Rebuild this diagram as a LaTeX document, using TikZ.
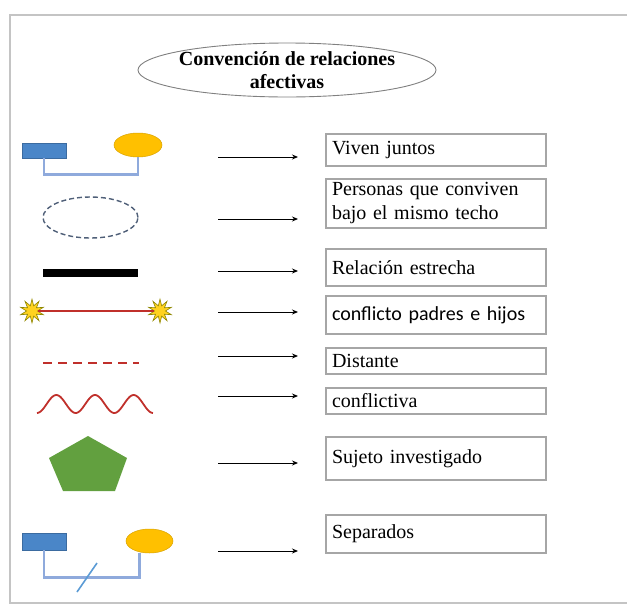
\documentclass[tikz,border=0pt]{standalone}
\usepackage{fontspec}
\setmainfont{Liberation Serif}
\newfontfamily\calibrifont{Carlito}
\usetikzlibrary{arrows.meta,shapes.geometric}

\definecolor{famblue}{HTML}{4A86C8}
\definecolor{famorange}{HTML}{FFC000}
\definecolor{linkblue}{HTML}{8FAADC}
\definecolor{slashblue}{HTML}{5B9BD5}
\definecolor{framegray}{HTML}{C4C4C4}
\definecolor{boxgray}{HTML}{A6A6A6}
\definecolor{darkred}{HTML}{C0302B}
\definecolor{pentgreen}{HTML}{62A03F}
\definecolor{staryellow}{HTML}{FFD21F}
\definecolor{dashgray}{HTML}{4F5F78}

\begin{document}
\begin{tikzpicture}[x=1pt, y=-1pt,
    framestyle/.style={draw=framegray, line width=1.5pt},
    legendbox/.style={draw=boxgray, line width=1.2pt, text width=208pt,
        inner xsep=6pt, inner ysep=1pt, align=left,
        font=\fontsize{20}{24}\selectfont},
    arr/.style={-{Stealth[length=6pt,width=5pt]}, line width=0.9pt},
    malebox/.style={rectangle, fill=famblue, draw=famblue!80!black,
        line width=0.5pt, minimum width=44pt, inner sep=0pt},
    femoval/.style={ellipse, fill=famorange, draw=famorange!85!black,
        line width=0.5pt, minimum height=24pt, inner sep=0pt},
    link/.style={draw=linkblue, line width=2.5pt},
    burst/.style={star, star points=10, star point ratio=2.2, minimum size=24pt,
        inner sep=0pt, fill=staryellow, draw=olive, line width=0.6pt}]

    \useasboundingbox (0,0) rectangle (627,606);

    % frame
    \draw[framestyle] (627,15) -- (10,15) -- (10,603) -- (627,603);

    % title
    \node[font=\bfseries\fontsize{20}{23}\selectfont, align=center] (title) at (287,70)
        {Convención de relaciones\\afectivas};
    \draw[draw=gray, line width=0.9pt] (title.center) ellipse (149pt and 27pt);

    % viven juntos
    \node[malebox, minimum height=15pt] (hus1) at (44,150.5) {};
    \node[femoval, minimum width=48pt] (wif1) at (138,145) {};
    \draw[link] (hus1.south) -- ++(0,16) -| (wif1.south);

    % mismo techo
    \draw[dashgray, line width=1.4pt, dash pattern=on 5pt off 3pt]
        (90.5,217.5) ellipse (47.5pt and 20.5pt);

    % relacion estrecha
    \draw[black, line width=8pt] (43,273) -- (138,273);

    % conflicto padres e hijos
    \node[burst] (star1) at (32,311) {};
    \node[burst] (star2) at (160,311) {};
    \draw[darkred, line width=2pt] (star1) -- (star2);

    % distante
    \draw[darkred, line width=2pt, dash pattern=on 9pt off 6pt] (43,363) -- (139,363);

    % conflictiva
    \draw[darkred, line width=1.8pt] plot[domain=0:1, samples=80, smooth]
        ({37+116*\x}, {404+9*cos(1080*\x)});

    % sujeto investigado
    \fill[pentgreen] (88,436) -- (127,458) -- (115,491) -- (63,491) -- (49,458) -- cycle;

    % separados
    \node[malebox, minimum height=17pt] (hus2) at (44,541.5) {};
    \node[femoval, minimum width=47pt] (wif2) at (149.5,541) {};
    \draw[link] (hus2.south) -- ++(0,27) -| ([xshift=-10pt]wif2.south);
    \draw[slashblue, line width=1.6pt] (77,592) -- (97,563);

    % arrows
    \foreach \ay [count=\i] in {157,219,271,312,356,396,463,551} {
        \coordinate (from\i) at (218,\ay);
        \coordinate (to\i) at (298,\ay);
        \draw[arr] (from\i) -- (to\i);
    }

    % labels
    \node[legendbox, minimum height=32pt] (viven) at (436,150) {Viven juntos};
    \node[legendbox, minimum height=49pt] (techo) at (436,203.5)
        {Personas que conviven\\bajo el mismo techo};
    \node[legendbox, minimum height=37pt] (estrecha) at (436,267.5) {Relación estrecha};
    \node[legendbox, minimum height=38pt] (conflicto) at (436,315)
        {\calibrifont conflicto padres e hijos};
    \node[legendbox, minimum height=26pt] (distante) at (436,361) {Distante};
    \node[legendbox, minimum height=26pt] (conflictiva) at (436,401) {conflictiva};
    \node[legendbox, minimum height=43pt] (sujeto) at (436,458.5) {Sujeto investigado};
    \node[legendbox, minimum height=38pt] (separados) at (436,534) {Separados};
\end{tikzpicture}
\end{document}
